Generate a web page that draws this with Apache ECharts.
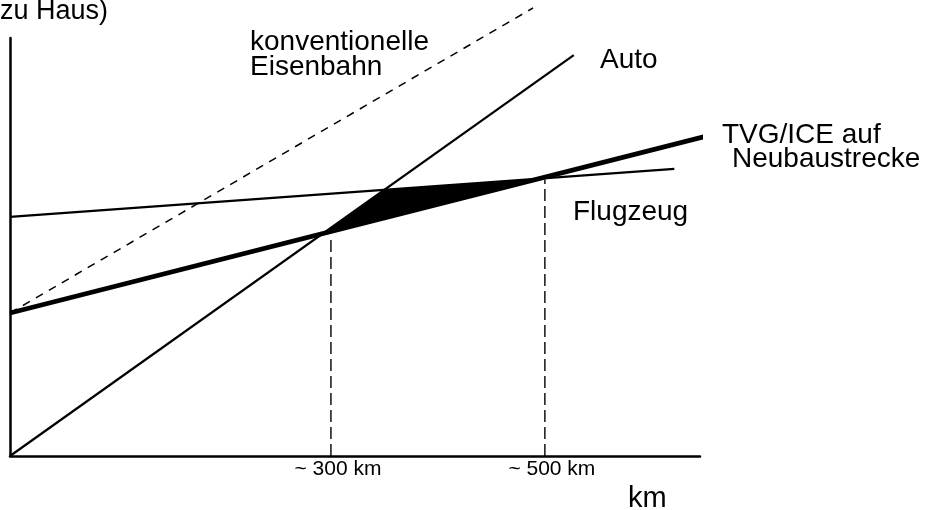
<!DOCTYPE html>
<html>
<head>
<meta charset="utf-8">
<script src="https://cdn.jsdelivr.net/npm/echarts@6/dist/echarts.min.js"></script>
<style>
  html, body { margin: 0; padding: 0; background: #fff; }
  #chart { width: 925px; height: 510px; }
</style>
</head>
<body>
<div id="chart"></div>
<script>
// Reisezeit (Tür zu Tür) über Entfernung
const autoKm = [0, 527];
const autoTime = [0, 95.9];
const tvgKm = [0, 652];
const tvgTime = [34.2, 76.6];
const flugKm = [0, 621];
const flugTime = [57.2, 68.7];
const bahnKm = [0, 489];
const bahnTime = [34.2, 107.2];
// senkrechte Hilfslinien bei den Schnittpunkten
const breakKm = [300, 500];
const breakTime = [51.7, 66.0];
// schwarze Fläche: Vorteil TVG/ICE
const gainKm = [292.5, 350.0, 494.6];
const gainTime = [53.2, 63.7, 66.4];
const xTicks = [300, 500];

const font = 'Liberation Sans, Arial, sans-serif';

const chart = echarts.init(document.getElementById('chart'));

function pairs(xs, ys) {
  return xs.map((x, i) => [x, ys[i]]);
}

function lineSeries(name, xs, ys, width, type) {
  return {
    name: name,
    type: 'line',
    data: pairs(xs, ys),
    symbol: 'none',
    clip: false,
    lineStyle: { color: '#000', width: width, type: type || 'solid' },
    z: 3
  };
}

const breakSeries = breakKm.map((x, i) => ({
  type: 'line',
  data: [[x, 0], [x, breakTime[i]]],
  symbol: 'none',
  lineStyle: { color: '#000', width: 1.4, type: [12, 5] },
  z: 2
}));

function txt(text, x, y, size, align) {
  return {
    type: 'text',
    x: x,
    y: y,
    style: {
      text: text,
      fill: '#000',
      font: size + 'px ' + font,
      align: align || 'left',
      verticalAlign: 'middle'
    }
  };
}

const option = {
  animation: false,
  grid: { left: 10, top: 38, width: 690, height: 418 },
  xAxis: {
    type: 'value',
    min: 0,
    max: 645,
    axisLine: { lineStyle: { color: '#000', width: 2.5 } },
    axisTick: { show: false },
    splitLine: { show: false },
    axisLabel: {
      customValues: xTicks,
      formatter: v => '~ ' + v + ' km',
      color: '#000',
      fontSize: 21,
      fontFamily: font,
      margin: 3,
      padding: [0, 0, 0, 14]
    }
  },
  yAxis: {
    type: 'value',
    min: 0,
    max: 100,
    axisLine: { show: true, lineStyle: { color: '#000', width: 2.5 } },
    axisTick: { show: false },
    axisLabel: { show: false },
    splitLine: { show: false }
  },
  series: [
    {
      type: 'custom',
      data: [0],
      renderItem: function (params, api) {
        return {
          type: 'polygon',
          shape: { points: gainKm.map((x, i) => api.coord([x, gainTime[i]])) },
          style: { fill: '#000' }
        };
      },
      z: 1
    },
    lineSeries('Auto', autoKm, autoTime, 2.2),
    lineSeries('Flugzeug', flugKm, flugTime, 2.2),
    lineSeries('TVG/ICE', tvgKm, tvgTime, 4.8),
    lineSeries('konventionelle Eisenbahn', bahnKm, bahnTime, 1.5, [8, 7])
  ].concat(breakSeries),
  graphic: [
    txt('zu Haus)', 108, 12, 27, 'right'),
    txt('konventionelle', 250, 42, 28),
    txt('Eisenbahn', 250, 67, 28),
    txt('Auto', 600, 60, 28),
    txt('TVG/ICE auf', 722, 135, 28),
    txt('Neubaustrecke', 732, 159, 28),
    txt('Flugzeug', 573, 212, 28),
    txt('km', 628, 499, 29)
  ]
};

chart.setOption(option);
</script>
</body>
</html>
